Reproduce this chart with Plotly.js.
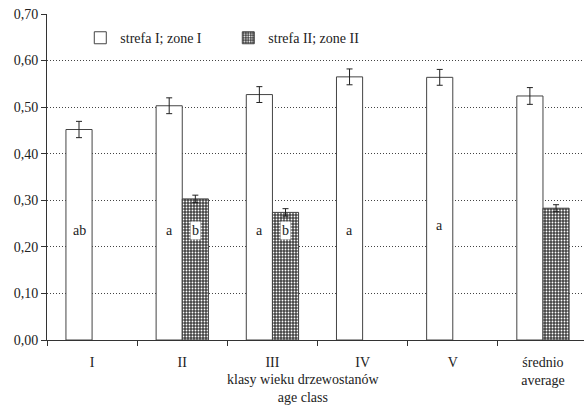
<!DOCTYPE html>
<html>
<head>
<meta charset="utf-8">
<script src="https://cdn.plot.ly/plotly-3.0.1.min.js"></script>
<style>
html,body{margin:0;padding:0;background:#fff;}
#chart{width:584px;height:408px;}
</style>
</head>
<body>
<div id="chart"></div>
<script>
var categories = ["I", "II", "III", "IV", "V", "średnio<br>average"];
var zoneI = [0.452, 0.503, 0.527, 0.565, 0.564, 0.524];
var zoneIErr = [0.0175, 0.017, 0.017, 0.017, 0.017, 0.018];
var zoneII = [null, 0.303, 0.274, null, null, 0.283];
var zoneIIErr = [null, 0.008, 0.008, null, null, 0.0075];
var lettersI = ["ab", "a", "a", "a", "a", ""];
var lettersII = ["", "b", "b", "", "", ""];
var yTicks = [0, 0.1, 0.2, 0.3, 0.4, 0.5, 0.6, 0.7];

var FONT = "Liberation Serif, Times New Roman, serif";
var INK = "#333";

var traces = [
  {
    type: "bar", name: "strefa I; zone I",
    x: categories, y: zoneI,
    marker: {color: "#fff", line: {color: "#444", width: 1}},
    error_y: {type: "data", array: zoneIErr, visible: true, color: "#222", thickness: 1, width: 3}
  },
  {
    type: "bar", name: "strefa II; zone II",
    x: categories, y: zoneII,
    marker: {color: "#fff", line: {color: "#444", width: 1},
             pattern: {shape: ".", fgcolor: "#fff", bgcolor: "#444", size: 3, solidity: 0.3, fillmode: "replace"}},
    error_y: {type: "data", array: zoneIIErr, visible: true, color: "#222", thickness: 1, width: 3}
  }
];

var annotations = [];
var labelY = [0.235, 0.235, 0.235, 0.235, 0.245, 0.235];
categories.forEach(function (c, i) {
  if (lettersI[i]) {
    annotations.push({x: c, y: labelY[i], xref: "x", yref: "y", text: lettersI[i], showarrow: false,
      xshift: -13, font: {family: FONT, size: 14, color: "#222"}});
  }
  if (lettersII[i]) {
    annotations.push({x: c, y: labelY[i], xref: "x", yref: "y", text: lettersII[i], showarrow: false,
      xshift: 13, bgcolor: "#fff", borderpad: 1, font: {family: FONT, size: 14, color: "#222"}});
  }
});
annotations.push({
  x: 0.477, y: 0, xref: "paper", yref: "paper", yanchor: "top", yshift: -30,
  text: "klasy wieku drzewostanów<br>age class", showarrow: false,
  font: {family: FONT, size: 14, color: "#222"}
});

var layout = {
  width: 584, height: 408,
  margin: {l: 47, r: 0, t: 14, b: 68, pad: 0},
  paper_bgcolor: "#fff", plot_bgcolor: "#fff",
  separators: ",.",
  font: {family: FONT, size: 14, color: "#222"},
  barmode: "group", bargap: 0.42, bargroupgap: 0,
  showlegend: true,
  legend: {orientation: "h", x: 0.062, y: 0.975, xanchor: "left", yanchor: "top",
           bgcolor: "#fff", font: {family: FONT, size: 14, color: "#222"},
           entrywidth: 103, entrywidthmode: "pixels", itemwidth: 30},
  xaxis: {
    type: "category", range: [-0.5, 5.455],
    showline: true, linecolor: INK, linewidth: 1,
    ticks: "outside", tickson: "boundaries", ticklen: 5, tickcolor: INK,
    ticklabelstandoff: 9,
    showgrid: false, zeroline: false, fixedrange: true,
    tickfont: {family: FONT, size: 14, color: "#222"}
  },
  yaxis: {
    range: [0, 0.7], tickvals: yTicks, tickformat: ".2f",
    showline: true, linecolor: INK, linewidth: 1,
    ticks: "outside", ticklen: 5, tickcolor: INK,
    showgrid: true, gridcolor: "#444", griddash: "1px,2px", gridwidth: 1,
    zeroline: false, fixedrange: true,
    tickfont: {family: FONT, size: 14, color: "#222"}
  },
  annotations: annotations
};

Plotly.newPlot("chart", traces, layout, {displayModeBar: false, staticPlot: true});
</script>
</body>
</html>
